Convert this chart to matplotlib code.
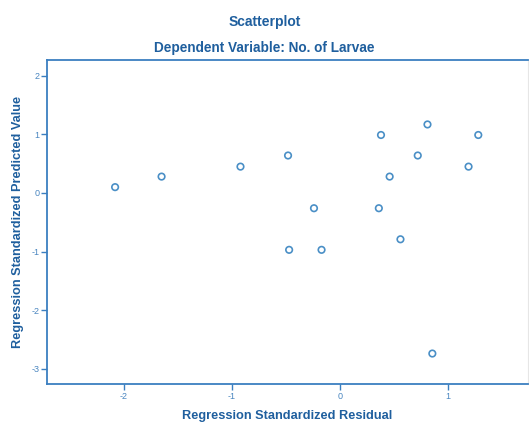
import matplotlib.pyplot as plt

plt.rcParams['font.family'] = ['Liberation Sans', 'DejaVu Sans']

# standardized residual vs standardized predicted value
residual = [-2.08, -1.65, -0.92, -0.48, -0.24, -0.47, -0.17, 0.38,
            0.36, 0.46, 0.56, 0.72, 0.81, 1.19, 1.28, 0.855]
predicted = [0.10, 0.28, 0.45, 0.64, -0.26, -0.97, -0.97, 0.99,
             -0.26, 0.28, -0.79, 0.64, 1.17, 0.45, 0.99, -2.74]
xticks = [-2, -1, 0, 1]
yticks = [-3, -2, -1, 0, 1, 2]

dark = '#1f5f9e'
frame = '#3b7fc0'
light = '#4a86c0'

fig = plt.figure(figsize=(5.29, 4.22), dpi=100)
W, H = 529, 422
ax = fig.add_axes([47 / W, 1 - 384 / H, (528 - 47) / W, (384 - 60) / H])

ax.scatter(residual, predicted, s=22, facecolors='none',
           edgecolors='#4a8fc6', linewidths=1.2, zorder=3)

ax.set_xlim(-2.71, 1.74)
ax.set_ylim(-3.26, 2.27)
ax.set_xticks(xticks)
ax.set_yticks(yticks)
ax.set_xticklabels([str(t) for t in xticks])
ax.set_yticklabels([str(t) for t in yticks])

for side in ['left', 'bottom', 'top']:
    ax.spines[side].set_color(frame)
    ax.spines[side].set_linewidth(1.3)
ax.spines['right'].set_color('#e6e6e6')
ax.spines['right'].set_linewidth(0.8)

ax.tick_params(axis='both', colors=frame, labelcolor=light,
               labelsize=6.5, length=4, width=1, pad=1.5)

fig.text(0.5, 1 - 22 / H, 'Scatterplot', ha='center', va='center',
         fontsize=10, fontweight='bold', color=dark)
fig.text(0.5, 1 - 48 / H, 'Dependent Variable: No. of Larvae', ha='center',
         va='center', fontsize=9.8, fontweight='bold', color=dark)
fig.text(287 / W, 1 - 416 / H, 'Regression Standardized Residual',
         ha='center', va='center', fontsize=9.2, fontweight='bold', color=dark)
fig.text(18 / W, 1 - 222 / H, 'Regression Standardized Predicted Value',
         ha='center', va='center', rotation=90, fontsize=9.2,
         fontweight='bold', color=dark)

fig.savefig('out.png', dpi=100)
